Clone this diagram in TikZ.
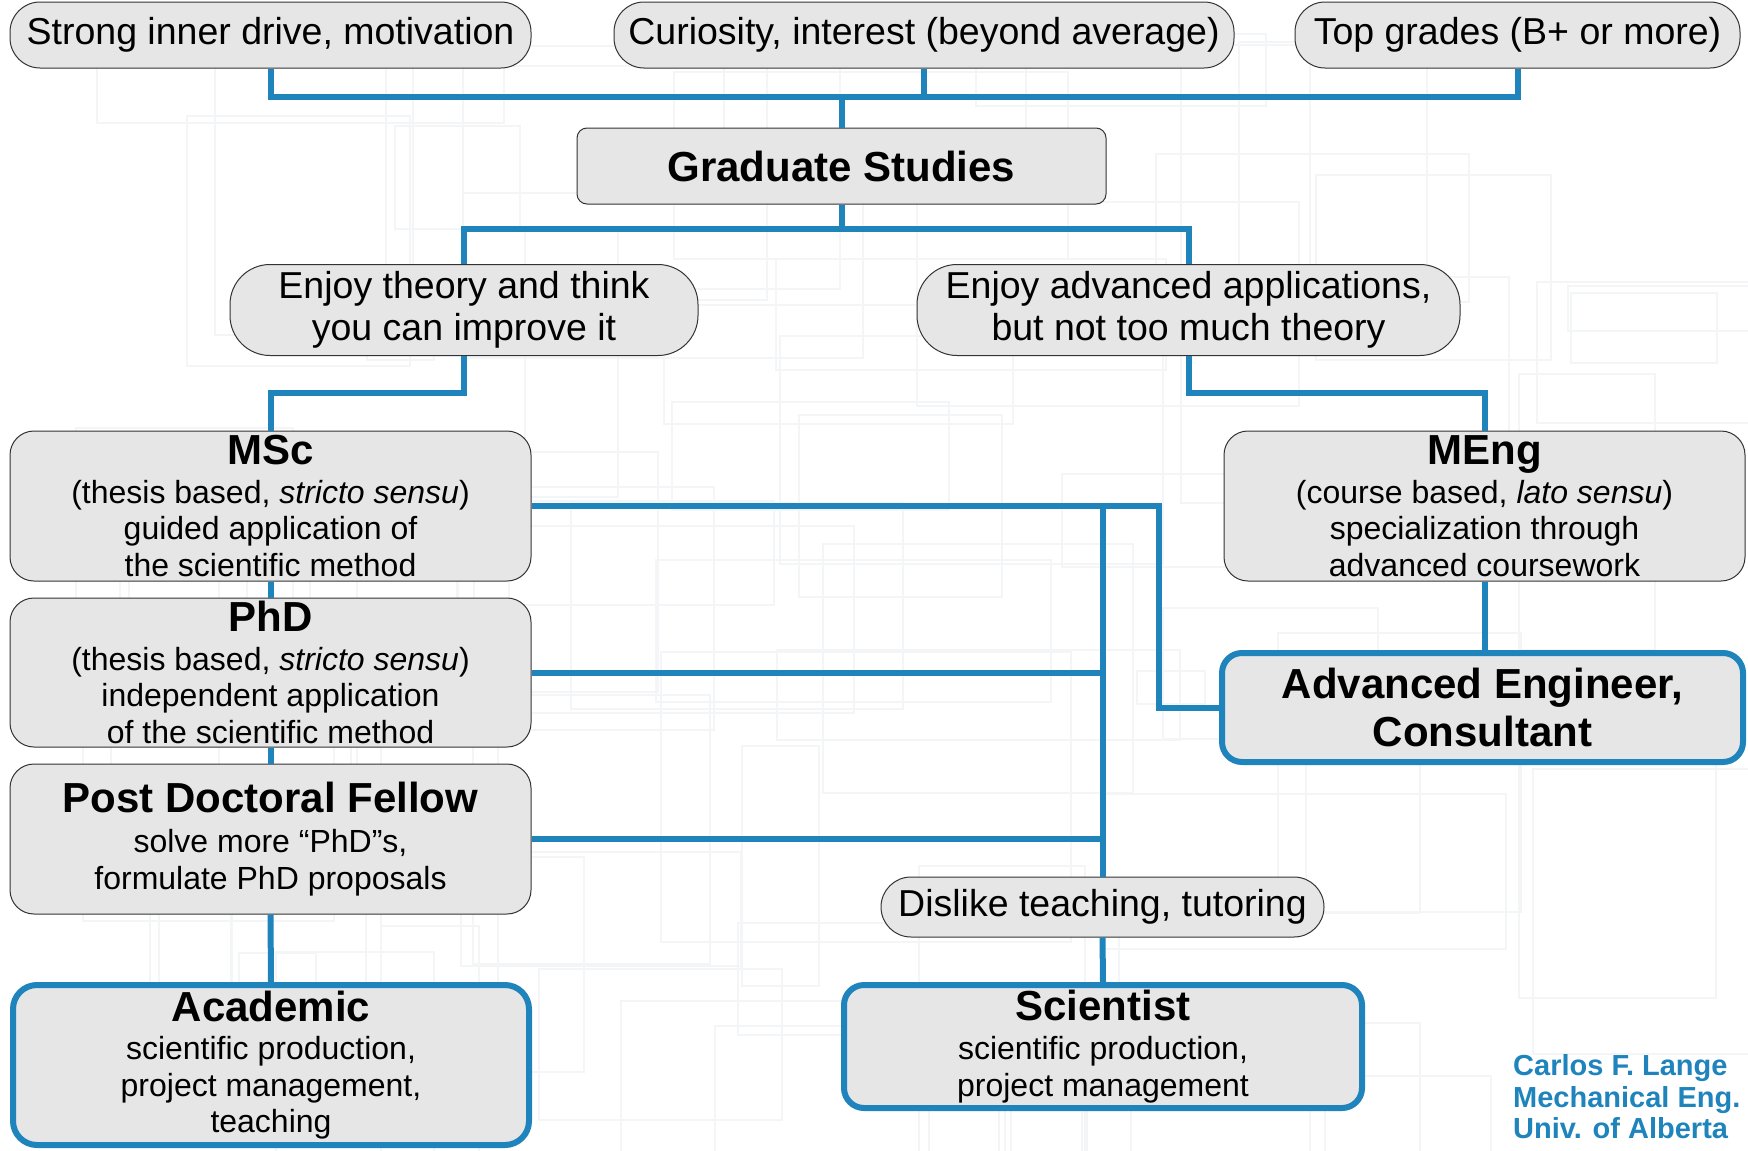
\documentclass[tikz,border=0pt]{standalone}
\usepackage{fontspec}
\setmainfont{Liberation Sans}
\definecolor{myblue}{RGB}{31,132,188}
\definecolor{mygray}{RGB}{230,230,230}
\colorlet{myfaint}{cyan!20!black!5}
\newcommand{\boxtitle}[1]{{\bfseries\fontsize{42}{44}\selectfont #1}}

\begin{document}
\begin{tikzpicture}[x=1pt,y=-1pt]
\useasboundingbox (0,0) rectangle (1748,1151);
\tikzset{Bubble/.style={draw=black!80, fill=mygray, line width=1pt, rounded corners=30pt,
  inner sep=0pt, align=center, font=\fontsize{37.5}{42}\selectfont}}
\tikzset{Box/.style={draw=black!80, fill=mygray, line width=1pt, rounded corners=24pt,
  inner sep=0pt, align=center, font=\fontsize{32}{36.5}\selectfont}}
\tikzset{Goal/.style={Box, draw=myblue, line width=6pt}}
\tikzset{Link/.style={draw=myblue, line width=6pt}}
% faint background texture
\begin{scope}
\clip (0,0) rectangle (1748,1151);
\pgfmathsetseed{11}
\foreach \k in {1,...,70}{
  \pgfmathsetmacro{\xa}{random(0,1700)}
  \pgfmathsetmacro{\ya}{random(0,1120)}
  \pgfmathsetmacro{\wa}{random(40,420)}
  \pgfmathsetmacro{\ha}{random(30,300)}
  \draw[myfaint, line width=1.2pt] (\xa,\ya) rectangle ++(\wa,\ha);
}
\end{scope}
% requirements
\node[Bubble, minimum width=521, minimum height=66] (drive) at (270.5,35) {Strong inner drive, motivation};
\node[Bubble, minimum width=620, minimum height=66] (curio) at (924,35) {Curiosity, interest (beyond average)};
\node[Bubble, minimum width=445, minimum height=66] (grades) at (1517.5,35) {Top grades (B+ or more)};
\node[Box, rounded corners=10pt, minimum width=529, minimum height=76] (grad) at (841.5,166) {\boxtitle{Graduate Studies}};
% preferences
\node[Bubble, rounded corners=40pt, minimum width=468, minimum height=91] (theory) at (464,310) {Enjoy theory and think\\you can improve it};
\node[Bubble, rounded corners=40pt, minimum width=543, minimum height=91] (applied) at (1188.5,310) {Enjoy advanced applications,\\but not too much theory};
% degrees
\node[Box, minimum width=521, minimum height=150] (msc) at (270.5,506) {\boxtitle{MSc}\\[2pt](thesis based, \textit{stricto sensu})\\guided application of\\the scientific method};
\node[Box, minimum width=521, minimum height=149] (phd) at (270.5,672.5) {\boxtitle{PhD}\\[2pt](thesis based, \textit{stricto sensu})\\independent application\\of the scientific method};
\node[Box, minimum width=521, minimum height=150] (postdoc) at (270.5,839) {\boxtitle{Post Doctoral Fellow}\\[4pt]solve more “PhD”s,\\formulate PhD proposals};
\node[Box, minimum width=521, minimum height=150] (meng) at (1484.5,506) {\boxtitle{MEng}\\[2pt](course based, \textit{lato sensu})\\specialization through\\advanced coursework};
\node[Bubble, minimum width=443, minimum height=60] (dislike) at (1102.5,907) {Dislike teaching, tutoring};
% careers
\node[Goal, minimum width=516, minimum height=160] (academic) at (271,1065) {\boxtitle{Academic}\\[2pt]scientific production,\\project management,\\teaching};
\node[Goal, rounded corners=20pt, minimum width=521, minimum height=109] (adveng) at (1482.5,707.5) {\boxtitle{Advanced Engineer,}\\[8pt]\boxtitle{Consultant}};
\node[Goal, rounded corners=20pt, minimum width=518, minimum height=123] (scientist) at (1103,1046.5) {\boxtitle{Scientist}\\[3pt]scientific production,\\project management};
\node[anchor=west, text=myblue, align=left, inner sep=0pt, font=\bfseries\fontsize{29}{31.5}\selectfont] (credit) at (1513,1097) {Carlos F. Lange\\Mechanical Eng.\\Univ. of Alberta};
% connectors
\coordinate (topbus) at (841.5,97);
\coordinate (gradbus) at (841.5,229);
\draw[Link] (drive.south) |- (topbus) -| (grades.south);
\draw[Link] (curio.south) -- (curio.south |- topbus);
\draw[Link] (topbus) -- (grad.north);
\draw[Link] (theory.north) |- (gradbus) -| (applied.north);
\draw[Link] (grad.south) -- (gradbus);
\draw[Link] (theory.south) -- ++(0,37) -| (msc.north);
\draw[Link] (applied.south) -- ++(0,37) -| (meng.north);
\draw[Link] (msc.south) -- (phd.north);
\draw[Link] (phd.south) -- (postdoc.north);
\draw[Link] (postdoc.south) -- (academic.north);
\draw[Link] (msc.east) -- ++(627,0) |- (adveng.west);
\draw[Link] (dislike.north) -- (dislike.north |- msc.east);
\draw[Link] (phd.east) -- (phd.east -| dislike.north);
\draw[Link] (postdoc.east) -- (postdoc.east -| dislike.north);
\draw[Link] (dislike.south) -- (scientist.north);
\draw[Link] (meng.south) -- (meng.south |- adveng.north);
\end{tikzpicture}
\end{document}
